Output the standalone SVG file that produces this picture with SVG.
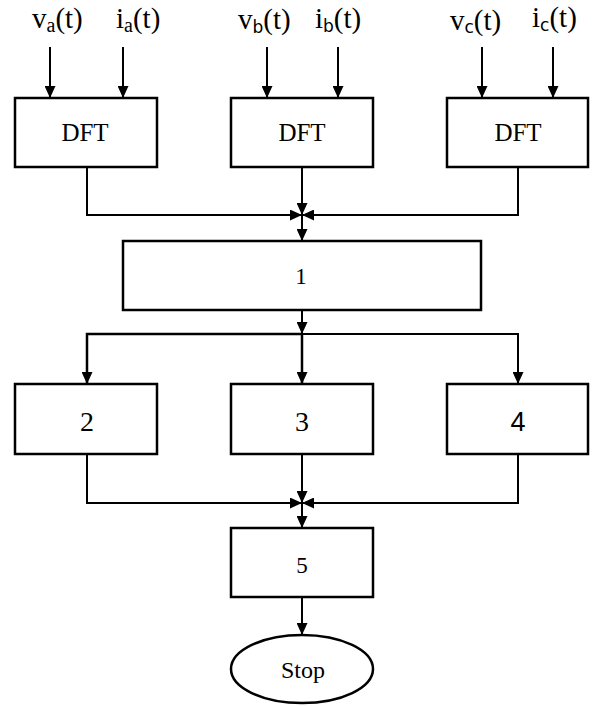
<svg xmlns="http://www.w3.org/2000/svg" width="596" height="706" viewBox="0 0 596 706">
  <style>
    .box { fill: #ffffff; stroke: #000000; stroke-width: 2.5; }
    .wire { fill: none; stroke: #000000; stroke-width: 2; }
    text { fill: #000000; }
    .mid { text-anchor: middle; }
  </style>
  <defs>
    <marker id="arrow" markerUnits="userSpaceOnUse" markerWidth="12" markerHeight="11" refX="12" refY="5.5" orient="auto">
      <path d="M0,0 L12,5.5 L0,11 Z" fill="#000000"/>
    </marker>
  </defs>

  <rect width="596" height="706" fill="#ffffff"/>

  <!-- input signal labels -->
  <g id="inputs" font-family="'Liberation Serif', serif" font-size="29">
    <text x="32" y="28">v<tspan font-size="20" dy="4">a</tspan><tspan dy="-4">(t)</tspan></text>
    <text x="116" y="28">i<tspan font-size="20" dy="4">a</tspan><tspan dy="-4">(t)</tspan></text>
    <text x="238" y="29">v<tspan font-family="'DejaVu Sans', sans-serif" font-size="17" dy="4">b</tspan><tspan dy="-4">(t)</tspan></text>
    <text x="315" y="28">i<tspan font-family="'DejaVu Sans', sans-serif" font-size="17" dy="4">b</tspan><tspan dy="-4">(t)</tspan></text>
    <text x="450" y="30">v<tspan font-family="'DejaVu Sans', sans-serif" font-size="17" dy="3">c</tspan><tspan dy="-3">(t)</tspan></text>
    <text x="532" y="27">i<tspan font-family="'DejaVu Sans', sans-serif" font-size="17" dy="4">c</tspan><tspan dy="-4">(t)</tspan></text>
  </g>

  <!-- connectors -->
  <g id="connectors" class="wire">
    <!-- inputs into the DFT blocks -->
    <line x1="50" y1="47" x2="50" y2="98" marker-end="url(#arrow)"/>
    <line x1="123" y1="47" x2="123" y2="98" marker-end="url(#arrow)"/>
    <line x1="267" y1="47" x2="267" y2="98" marker-end="url(#arrow)"/>
    <line x1="338" y1="47" x2="338" y2="98" marker-end="url(#arrow)"/>
    <line x1="482" y1="47" x2="482" y2="98" marker-end="url(#arrow)"/>
    <line x1="553" y1="47" x2="553" y2="98" marker-end="url(#arrow)"/>

    <!-- DFT outputs merge into block 1 -->
    <polyline points="87,167 87,215 302,215" marker-end="url(#arrow)"/>
    <line x1="302" y1="167" x2="302" y2="215" marker-end="url(#arrow)"/>
    <polyline points="518,167 518,215 302,215" marker-end="url(#arrow)"/>
    <line x1="302" y1="215" x2="302" y2="241" marker-end="url(#arrow)"/>

    <!-- block 1 fans out to blocks 2, 3, 4 -->
    <line x1="302" y1="310" x2="302" y2="334" marker-end="url(#arrow)"/>
    <polyline points="302,334 87,334 87,384" stroke-width="2.5" marker-end="url(#arrow)"/>
    <line x1="302" y1="334" x2="302" y2="384" stroke-width="2.5" marker-end="url(#arrow)"/>
    <polyline points="302,334 518,334 518,384" marker-end="url(#arrow)"/>

    <!-- blocks 2, 3, 4 merge into block 5 -->
    <polyline points="87,454 87,503 302,503" marker-end="url(#arrow)"/>
    <line x1="302" y1="454" x2="302" y2="503" marker-end="url(#arrow)"/>
    <polyline points="518,454 518,503 302,503" marker-end="url(#arrow)"/>
    <line x1="302" y1="503" x2="302" y2="528" marker-end="url(#arrow)"/>

    <!-- block 5 to stop -->
    <line x1="302" y1="597" x2="302" y2="635" marker-end="url(#arrow)"/>
  </g>

  <!-- DFT blocks -->
  <g id="dft-a" font-family="'Liberation Serif', serif">
    <rect class="box" x="15" y="98" width="142" height="69"/>
    <text class="mid" x="85" y="141" font-size="25">DFT</text>
  </g>
  <g id="dft-b" font-family="'Liberation Serif', serif">
    <rect class="box" x="231" y="98" width="142" height="69"/>
    <text class="mid" x="302" y="141" font-size="25">DFT</text>
  </g>
  <g id="dft-c" font-family="'Liberation Serif', serif">
    <rect class="box" x="447" y="98" width="141" height="69"/>
    <text class="mid" x="518" y="141" font-size="25">DFT</text>
  </g>

  <!-- processing blocks -->
  <g id="block-1" font-family="'Liberation Serif', serif">
    <rect class="box" x="123" y="241" width="358" height="69"/>
    <text class="mid" x="301" y="284" font-size="23">1</text>
  </g>
  <g id="block-2" font-family="'Liberation Serif', serif">
    <rect class="box" x="15" y="384" width="142" height="70"/>
    <text class="mid" x="87" y="431" font-size="28">2</text>
  </g>
  <g id="block-3" font-family="'Liberation Serif', serif">
    <rect class="box" x="231" y="384" width="142" height="70"/>
    <text class="mid" x="302" y="431" font-size="28">3</text>
  </g>
  <g id="block-4" font-family="'Liberation Sans', sans-serif">
    <rect class="box" x="447" y="384" width="141" height="70"/>
    <text class="mid" x="518" y="431" font-size="27">4</text>
  </g>
  <g id="block-5" font-family="'Liberation Serif', serif">
    <rect class="box" x="231" y="528" width="142" height="69"/>
    <text class="mid" x="302" y="573" font-size="23">5</text>
  </g>

  <!-- terminal -->
  <g id="stop" font-family="'Liberation Serif', serif">
    <ellipse class="box" cx="302" cy="669" rx="71" ry="34" stroke-width="2"/>
    <text class="mid" x="303" y="678" font-size="24">Stop</text>
  </g>
</svg>
